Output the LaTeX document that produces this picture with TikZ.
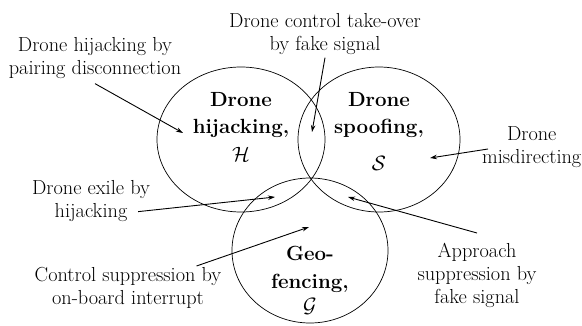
\documentclass[tikz,border=0pt]{standalone}
\usepackage{tikz}
\usetikzlibrary{arrows.meta}

\begin{document}
\begin{tikzpicture}[x=1pt,y=-1pt,
  note/.style={align=center,anchor=north,inner sep=0pt,font=\fontsize{20.3}{23}\selectfont},
  setname/.style={align=center,anchor=north,inner sep=0pt,font=\fontsize{20.5}{27.5}\selectfont\bfseries},
  arr/.style={-{Stealth[length=7pt,width=4.5pt]},line width=0.9pt}]
  \useasboundingbox (0,0) rectangle (582,325);

  % ── The three sets ──
  \draw[line width=0.7pt] (241,139.5) ellipse [x radius=84pt,y radius=72.5pt];
  \draw[line width=0.7pt] (379,139.5) ellipse [x radius=81pt,y radius=72.5pt];
  \draw[line width=0.7pt] (310,250.5) ellipse [x radius=78pt,y radius=72.5pt];

  \node[setname] (hset) at (241,92) {Drone\\hijacking,\\$\mathcal{H}$};
  \node[setname] (sset) at (379,92) {Drone\\spoofing,\\[9pt]$\mathcal{S}$};
  \node[setname] (gset) at (310,246) {Geo-\\fencing,\\[-3pt]$\mathcal{G}$};

  % ── Attack descriptions ──
  \node[note] (pairing) at (95,37) {Drone hijacking by\\pairing disconnection};
  \node[note] (takeover) at (325,13) {Drone control take-over\\by fake signal};
  \node[note,anchor=west] (misdir) at (482,147) {Drone\\misdirecting};
  \node[note] (exile) at (91,180) {Drone exile by\\hijacking};
  \node[note] (ctrl) at (128,267) {Control suppression by\\on-board interrupt};
  \node[note] (approach) at (477,243) {Approach\\suppression by\\fake signal};

  % ── Arrow targets ──
  \coordinate (hPt) at (183,133);
  \coordinate (tkPt) at (312,132);
  \coordinate (sPt) at (430,158);
  \coordinate (hgPt) at (275,197);
  \coordinate (gPt) at (309,227);
  \coordinate (sgPt) at (348,197);

  \draw[arr] ([yshift=-5]pairing.south) -- (hPt);
  \draw[arr] ([yshift=-3]takeover.south) -- (tkPt);
  \draw[arr] ([xshift=6,yshift=-2]misdir.west) -- (sPt);
  \draw[arr] ([xshift=-12,yshift=10]exile.south east) -- (hgPt);
  \draw[arr] ([xshift=-25,yshift=1]ctrl.north east) -- (gPt);
  \draw[arr] ([yshift=10]approach.north) -- (sgPt);
\end{tikzpicture}
\end{document}
